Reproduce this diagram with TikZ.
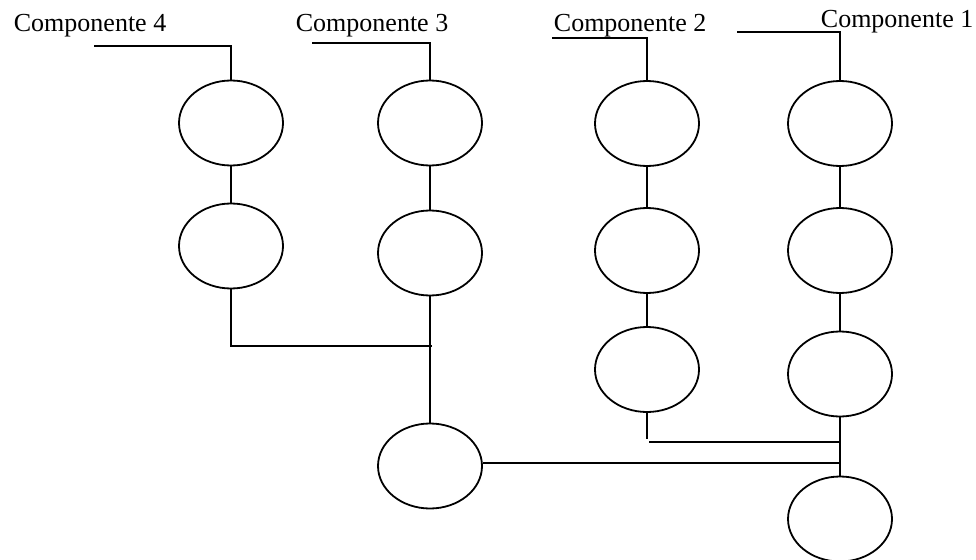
\documentclass[tikz,border=0pt]{standalone}
\usepackage{fontspec}
\setmainfont{Liberation Serif}
\usetikzlibrary{shapes.geometric}

\begin{document}
\begin{tikzpicture}[x=1pt,y=-1pt,
  line width=1.8pt,
  part/.style={draw, ellipse, minimum width=104pt, minimum height=85pt, inner sep=0pt},
  caption/.style={anchor=base west, inner sep=0pt, font=\fontsize{26}{30}\selectfont}]
\useasboundingbox (0,0) rectangle (976,559);

% component captions
\node[caption] (t4) at (13,32) {Componente 4};
\node[caption] (t3) at (295,32) {Componente 3};
\node[caption] (t2) at (553,32) {Componente 2};
\node[caption] (t1) at (820,28) {Componente 1};

% chains of parts
\node[part] (e41) at (231,123) {};
\node[part] (e42) at (231,246) {};
\node[part] (e31) at (430,123) {};
\node[part] (e32) at (430,253) {};
\node[part] (e21) at (647,123.5) {};
\node[part] (e22) at (647,250.5) {};
\node[part] (e23) at (647,369.5) {};
\node[part] (e11) at (840,123.5) {};
\node[part] (e12) at (840,250.5) {};
\node[part] (e13) at (840,374) {};
\node[part] (m) at (430,466) {};
\node[part] (r) at (840,519) {};

% lead lines under the captions
\coordinate (l4) at (94,46);
\coordinate (l3) at (312,43);
\coordinate (l2) at (552,38);
\coordinate (l1) at (737,32);
\draw (l4) -| (e41.north);
\draw (l3) -| (e31.north);
\draw (l2) -| (e21.north);
\draw (l1) -| (e11.north);

% vertical links
\draw (e41) -- (e42);
\draw (e31) -- (e32);
\draw (e32) -- (m);
\draw (e21) -- (e22);
\draw (e22) -- (e23);
\draw (e11) -- (e12);
\draw (e12) -- (e13);
\draw (e13) -- (r);

% joins
\coordinate (j4) at (432,346);
\draw (e42.south) |- (j4);
\coordinate (j2a) at (647,439);
\coordinate (j2b) at (649,442);
\coordinate (j2c) at (840,442);
\draw (e23.south) -- (j2a);
\draw (j2b) -- (j2c);
\coordinate (jm) at (840,463);
\draw (jm -| m.east) -- (jm);
\end{tikzpicture}
\end{document}
